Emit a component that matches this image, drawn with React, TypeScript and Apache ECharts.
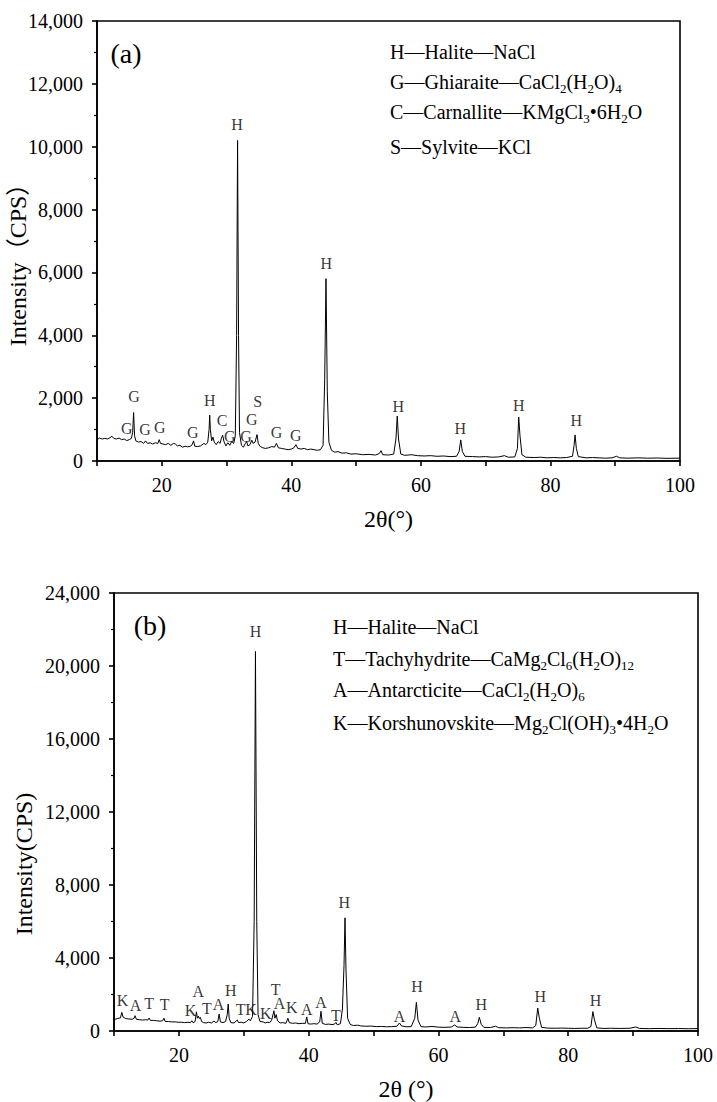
import React, { useEffect, useRef } from 'react';
import * as echarts from 'echarts';

const FONT = 'Liberation Serif';
const FONT_CJK = 'Liberation Serif, Noto Sans CJK SC';

// ---- Pattern (a): [2θ, intensity CPS]
const patternA: [number, number][] = [
  [10.0, 680], [10.4, 730], [10.8, 700], [11.2, 720], [11.6, 700], [12.0, 740], [12.3, 790], [12.6, 720],
  [13.0, 700], [13.4, 730], [13.8, 680], [14.2, 700], [14.6, 650], [15.0, 680], [15.3, 720], [15.5, 900],
  [15.65, 1540], [15.8, 800], [16.0, 640], [16.4, 600], [16.8, 620], [17.2, 560], [17.5, 640], [17.8, 560],
  [18.2, 580], [18.6, 540], [19.0, 580], [19.4, 560], [19.6, 680], [19.8, 560], [20.2, 540], [20.6, 520],
  [21.0, 560], [21.4, 500], [21.8, 560], [22.1, 540], [22.4, 480], [22.8, 500], [23.2, 440], [23.6, 470],
  [24.0, 450], [24.4, 470], [24.7, 520], [24.9, 640], [25.1, 470], [25.5, 460], [26.0, 480], [26.5, 560],
  [26.8, 520], [27.1, 600], [27.3, 1000], [27.4, 1460], [27.5, 1000], [27.7, 640], [27.9, 760], [28.1, 600],
  [28.4, 520], [28.7, 620], [29.0, 560], [29.2, 720], [29.4, 820], [29.6, 620], [29.9, 480], [30.2, 580],
  [30.5, 500], [30.8, 620], [31.1, 560], [31.35, 800], [31.55, 4000], [31.7, 10200], [31.85, 4000], [32.0, 900],
  [32.3, 500], [32.6, 440], [32.9, 560], [33.1, 620], [33.3, 480], [33.6, 520], [33.9, 660], [34.1, 560],
  [34.4, 600], [34.7, 840], [34.9, 560], [35.2, 460], [35.6, 420], [36.0, 400], [36.5, 420], [37.0, 460],
  [37.4, 440], [37.7, 560], [38.0, 420], [38.5, 400], [39.0, 380], [39.5, 360], [40.0, 380], [40.4, 420],
  [40.7, 520], [41.0, 400], [41.5, 380], [42.0, 400], [42.5, 360], [43.0, 380], [43.5, 360], [44.0, 340],
  [44.5, 360], [44.9, 500], [45.15, 2600], [45.35, 5800], [45.55, 2200], [45.8, 600], [46.2, 340], [46.7, 280],
  [47.2, 300], [47.8, 250], [48.5, 260], [49.2, 220], [50.0, 230], [51.0, 200], [52.0, 210], [53.0, 190],
  [53.6, 240], [53.85, 330], [54.1, 200], [55.0, 190], [55.8, 220], [56.15, 700], [56.35, 1430], [56.55, 700],
  [56.9, 220], [57.5, 180], [58.5, 200], [59.5, 170], [60.5, 160], [61.5, 170], [62.5, 150], [63.5, 160],
  [64.5, 140], [65.5, 150], [65.9, 300], [66.15, 670], [66.4, 300], [66.8, 150], [68.0, 140], [69.0, 130],
  [70.0, 140], [71.0, 120], [72.0, 130], [72.9, 170], [73.5, 120], [74.5, 130], [74.9, 400], [75.1, 1400],
  [75.3, 800], [75.6, 200], [76.2, 120], [77.5, 110], [78.5, 120], [79.5, 100], [80.5, 110], [81.5, 100],
  [82.5, 110], [83.4, 150], [83.65, 500], [83.8, 830], [84.0, 400], [84.3, 140], [85.5, 100], [86.5, 110],
  [87.5, 100], [88.5, 90], [89.5, 100], [90.2, 150], [90.7, 100], [92.0, 90], [93.5, 100], [95.0, 90],
  [96.5, 95], [98.0, 85], [100.0, 90],
];

// ---- Pattern (b): [2θ, intensity CPS]
const patternB: [number, number][] = [
  [10.0, 620], [10.5, 680], [11.0, 720], [11.2, 1020], [11.4, 760], [11.8, 680], [12.3, 660], [12.8, 640],
  [13.1, 700], [13.25, 840], [13.45, 640], [13.9, 620], [14.4, 600], [14.9, 620], [15.2, 600], [15.4, 710],
  [15.6, 580], [16.1, 580], [16.6, 560], [17.1, 540], [17.5, 560], [17.7, 700], [17.9, 520], [18.4, 520],
  [18.9, 500], [19.4, 500], [19.9, 480], [20.4, 480], [20.9, 460], [21.4, 480], [21.8, 460], [22.0, 560],
  [22.2, 450], [22.5, 520], [22.7, 1050], [22.85, 700], [23.0, 820], [23.15, 680], [23.3, 750], [23.5, 520],
  [23.8, 460], [24.2, 440], [24.6, 480], [25.0, 440], [25.4, 540], [25.7, 460], [26.0, 520], [26.2, 930],
  [26.4, 500], [26.8, 460], [27.2, 520], [27.45, 900], [27.6, 1480], [27.75, 700], [28.0, 460], [28.5, 440],
  [29.0, 600], [29.2, 460], [29.6, 480], [30.0, 440], [30.4, 520], [30.8, 650], [31.0, 560], [31.35, 800],
  [31.6, 6000], [31.8, 20800], [32.0, 6000], [32.2, 900], [32.5, 520], [33.0, 500], [33.3, 440], [33.6, 480],
  [34.0, 460], [34.3, 600], [34.5, 900], [34.65, 1110], [34.8, 700], [35.0, 900], [35.2, 560], [35.6, 440],
  [36.0, 460], [36.5, 420], [36.8, 700], [37.0, 460], [37.5, 420], [38.0, 440], [38.5, 400], [39.0, 420],
  [39.5, 420], [39.7, 770], [39.9, 400], [40.3, 380], [40.8, 400], [41.3, 380], [41.7, 500], [41.9, 1080],
  [42.1, 420], [42.6, 360], [43.1, 380], [43.6, 350], [44.0, 380], [44.2, 470], [44.4, 340], [44.9, 400],
  [45.2, 1200], [45.45, 3600], [45.6, 6200], [45.75, 3400], [46.0, 700], [46.4, 360], [46.9, 300], [47.5, 320],
  [48.0, 280], [48.8, 260], [49.6, 270], [50.4, 240], [51.2, 250], [52.0, 230], [52.8, 240], [53.6, 260],
  [54.0, 440], [54.3, 280], [55.0, 230], [55.8, 240], [56.35, 700], [56.6, 1570], [56.85, 600], [57.3, 240],
  [58.0, 220], [59.0, 250], [60.0, 210], [61.0, 200], [62.0, 220], [62.5, 330], [62.9, 220], [63.8, 200],
  [64.8, 190], [65.7, 210], [66.05, 400], [66.3, 750], [66.6, 360], [67.0, 200], [68.0, 190], [68.8, 260],
  [69.3, 180], [70.5, 170], [71.5, 180], [72.5, 170], [73.5, 190], [74.5, 170], [75.0, 300], [75.3, 1260],
  [75.55, 700], [75.9, 200], [76.8, 160], [78.0, 150], [79.0, 160], [80.0, 150], [81.0, 140], [82.0, 150],
  [83.0, 150], [83.5, 250], [83.8, 1060], [84.05, 600], [84.4, 170], [85.5, 140], [86.5, 150], [88.0, 140],
  [89.5, 150], [90.4, 220], [91.0, 140], [92.5, 130], [94.0, 140], [95.5, 130], [97.0, 135], [98.5, 125],
  [100.0, 130],
];

// ---- Peak labels (a)
const peakLettersA = ['G', 'G', 'G', 'G', 'G', 'H', 'C', 'G', 'H', 'G', 'G', 'S', 'G', 'G', 'H', 'H', 'H', 'H', 'H'];
const peakThetaA = [15.7, 14.6, 17.4, 19.7, 24.8, 27.4, 29.3, 30.5, 31.6, 33.0, 33.9, 34.8, 37.7, 40.7, 45.4, 56.5, 66.1, 75.1, 84.0];
const peakLabelYA = [2050, 1020, 990, 1080, 900, 1920, 1300, 775, 10700, 775, 1330, 1890, 900, 800, 6300, 1730, 1020, 1780, 1300];

// ---- Peak labels (b)
const peakLettersB = ['K', 'A', 'T', 'T', 'K', 'A', 'T', 'A', 'H', 'T', 'K', 'H', 'K', 'T', 'A', 'K', 'A', 'A', 'T', 'H', 'A', 'H', 'A', 'H', 'H', 'H'];
const peakThetaB = [11.3, 13.3, 15.4, 17.8, 21.8, 23.0, 24.3, 26.1, 28.0, 29.5, 31.1, 31.8, 33.4, 34.9, 35.5, 37.4, 39.7, 41.9, 44.2, 45.5, 54.0, 56.7, 62.6, 66.6, 75.7, 84.2];
const peakLabelYB = [1695, 1385, 1510, 1440, 1110, 2150, 1260, 1476, 2200, 1165, 1200, 21900, 985, 2300, 1480, 1295, 1200, 1570, 875, 7050, 800, 2440, 800, 1476, 1875, 1695];

// ---- Phase keys
const legendA = [
  'H—Halite—NaCl',
  'G—Ghiaraite—CaCl{s|2}(H{s|2}O){s|4}',
  'C—Carnallite—KMgCl{s|3}•6H{s|2}O',
  'S—Sylvite—KCl',
];
const legendB = [
  'H—Halite—NaCl',
  'T—Tachyhydrite—CaMg{s|2}Cl{s|6}(H{s|2}O){s|12}',
  'A—Antarcticite—CaCl{s|2}(H{s|2}O){s|6}',
  'K—Korshunovskite—Mg{s|2}Cl(OH){s|3}•4H{s|2}O',
];

// ---- Axis ranges
const yMaxA = 14000;
const yStepA = 2000;
const yMaxB = 24000;
const yStepB = 4000;
const xMin = 10;
const xMax = 100;
const xStep = 10;

const black = '#000';

function makeX(gridIndex: number, name: string) {
  return {
    type: 'value',
    gridIndex,
    min: xMin,
    max: xMax,
    interval: xStep,
    name,
    nameLocation: 'middle',
    nameGap: 58,
    nameTextStyle: { fontFamily: FONT, fontSize: 24, color: black, verticalAlign: 'middle' },
    axisLine: { show: true, onZero: false, lineStyle: { color: black, width: 1.6 } },
    axisTick: { show: true, inside: false, length: 5, lineStyle: { color: black, width: 1.6 } },
    axisLabel: {
      formatter: (v: number) => (v % 20 === 0 ? String(v) : ''),
      fontFamily: FONT,
      fontSize: 20,
      color: black,
      margin: 14,
    },
    splitLine: { show: false },
  };
}

function makeY(gridIndex: number, max: number, step: number) {
  return {
    type: 'value',
    gridIndex,
    min: 0,
    max,
    interval: step,
    axisLine: { show: true, onZero: false, lineStyle: { color: black, width: 1.6 } },
    axisTick: { show: true, inside: false, length: 5, lineStyle: { color: black, width: 1.6 } },
    minorTick: { show: true, splitNumber: 2, length: 3, lineStyle: { color: black, width: 1.2 } },
    axisLabel: {
      formatter: (v: number) => v.toLocaleString('en-US'),
      fontFamily: FONT,
      fontSize: 20,
      color: black,
      margin: 14,
    },
    splitLine: { show: false },
    minorSplitLine: { show: false },
  };
}

function labelSeries(idx: number, letters: string[], thetas: number[], ys: number[]) {
  return {
    type: 'scatter',
    xAxisIndex: idx,
    yAxisIndex: idx,
    symbol: 'circle',
    symbolSize: 1,
    itemStyle: { color: 'rgba(0,0,0,0)' },
    silent: true,
    label: {
      show: true,
      position: 'inside',
      formatter: '{b}',
      fontFamily: FONT,
      fontSize: 16,
      color: black,
    },
    labelLayout: { hideOverlap: false },
    data: letters.map((l, i) => ({ name: l, value: [thetas[i], ys[i]] })),
    z: 5,
  };
}

const rich = {
  s: { fontSize: 13, fontFamily: FONT, fill: black, verticalAlign: 'bottom' },
};

function legendTexts(lines: string[], x: number, ys: number[]) {
  return lines.map((t, i) => ({
    type: 'text',
    x,
    y: ys[i],
    silent: true,
    style: {
      text: t,
      fontFamily: FONT,
      fontSize: 20,
      fill: black,
      lineHeight: 26,
      align: 'left',
      verticalAlign: 'middle',
      rich,
    },
  }));
}

export default function App() {
  const ref = useRef<HTMLDivElement>(null);
  useEffect(() => {
    if (!ref.current) return;
    const chart = echarts.init(ref.current, undefined, { renderer: 'svg' });
    const option: any = {
      animation: false,
      backgroundColor: '#fff',
      textStyle: { fontFamily: FONT },
      grid: [
        { left: 97, top: 21, width: 583, height: 440, show: true, borderColor: black, borderWidth: 1.6, backgroundColor: 'transparent' },
        { left: 114, top: 593, width: 584, height: 439, show: true, borderColor: black, borderWidth: 1.6, backgroundColor: 'transparent' },
      ],
      xAxis: [makeX(0, '2θ(°)'), makeX(1, '2θ (°)')],
      yAxis: [makeY(0, yMaxA, yStepA), makeY(1, yMaxB, yStepB)],
      series: [
        {
          type: 'line', xAxisIndex: 0, yAxisIndex: 0, data: patternA, showSymbol: false, symbol: 'none',
          lineStyle: { color: black, width: 1 }, silent: true,
        },
        {
          type: 'line', xAxisIndex: 1, yAxisIndex: 1, data: patternB, showSymbol: false, symbol: 'none',
          lineStyle: { color: black, width: 1 }, silent: true,
        },
        labelSeries(0, peakLettersA, peakThetaA, peakLabelYA),
        labelSeries(1, peakLettersB, peakThetaB, peakLabelYB),
      ],
      graphic: [
        {
          type: 'text', x: 18, y: 259, rotation: Math.PI / 2, silent: true,
          style: { text: 'Intensity（CPS）', fontFamily: FONT_CJK, fontSize: 24, fill: black, align: 'center', verticalAlign: 'middle' },
        },
        {
          type: 'text', x: 24, y: 864, rotation: Math.PI / 2, silent: true,
          style: { text: 'Intensity(CPS)', fontFamily: FONT, fontSize: 24, fill: black, align: 'center', verticalAlign: 'middle' },
        },
        {
          type: 'text', x: 126, y: 53, silent: true,
          style: { text: '(a)', fontFamily: FONT, fontSize: 28, fill: black, align: 'center', verticalAlign: 'middle' },
        },
        {
          type: 'text', x: 150, y: 625, silent: true,
          style: { text: '(b)', fontFamily: FONT, fontSize: 28, fill: black, align: 'center', verticalAlign: 'middle' },
        },
        ...legendTexts(legendA, 390, [52, 82, 112, 147]),
        ...legendTexts(legendB, 333, [627, 659, 690, 723]),
      ],
    };
    chart.setOption(option);
    return () => chart.dispose();
  }, []);
  return <div ref={ref} style={{ position: 'absolute', left: 0, top: 0, width: 717, height: 1102 }} />;
}
